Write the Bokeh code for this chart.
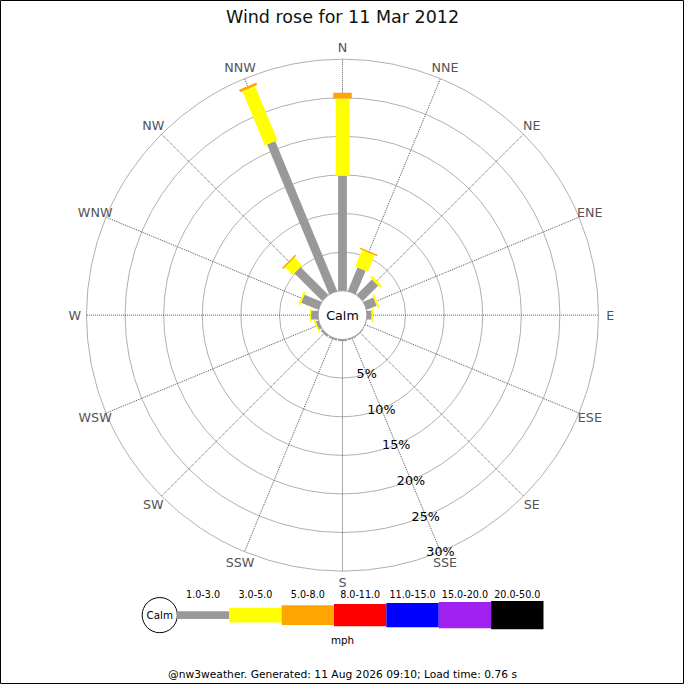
import math
from bokeh.plotting import figure
from bokeh.models import Range1d
from bokeh.core.properties import value
from bokeh.embed import file_html
from bokeh.resources import INLINE

# 16 compass points, clockwise from north
directions = ["N", "NNE", "NE", "ENE", "E", "ESE", "SE", "SSE",
              "S", "SSW", "SW", "WSW", "W", "WNW", "NW", "NNW"]
speed_bands = ["1.0-3.0", "3.0-5.0", "5.0-8.0", "8.0-11.0",
               "11.0-15.0", "15.0-20.0", "20.0-50.0"]
band_colors = ["#999999", "#ffff00", "#ffa500", "#ff0000",
               "#0000ff", "#a020f0", "#000000"]

# % of time in each band, per direction
pct_1_3 = [14.9, 3.3, 2.8, 1.4, 0.6, 0.0, 0.1, 0.15,
           0.2, 0.2, 0.25, 0.35, 0.9, 2.4, 5.1, 21.0]
pct_3_5 = [10.0, 2.3, 0.35, 0.25, 0.2, 0.0, 0.0, 0.0,
           0.0, 0.0, 0.0, 0.2, 0.15, 0.25, 1.4, 7.6]
pct_5_8 = [0.75, 0.2, 0.0, 0.0, 0.0, 0.0, 0.0, 0.0,
           0.0, 0.0, 0.0, 0.0, 0.0, 0.0, 0.2, 0.35]
series = [pct_1_3, pct_3_5, pct_5_8]

ring_ticks = [5, 10, 15, 20, 25, 30]
title = "Wind rose for 11 Mar 2012"
footer = "@nw3weather. Generated: 11 Aug 2026 09:10; Load time: 0.76 s"
units = "mph"

FONT = value("DejaVu Sans")
W = H = 700
CX, CY = 350, 378          # centre of the rose (y measured upward)
CALM_R = 25                 # radius of the calm circle
PX = 7.9                    # px per percent
bar_widths = [9, 14, 19, 23, 25, 27, 29]
legend_heights = [8, 15, 20, 23, 25, 27, 29]

p = figure(width=684, height=684, x_range=Range1d(0, W), y_range=Range1d(0, H),
           output_backend="svg", toolbar_location=None, min_border=0)
p.axis.visible = False
p.xgrid.visible = False
p.ygrid.visible = False
p.outline_line_color = "black"
p.background_fill_color = "white"


def polar(r, deg):
    a = math.radians(deg)
    return CX + r * math.sin(a), CY + r * math.cos(a)


angles = [i * 22.5 for i in range(len(directions))]
outer = CALM_R + PX * ring_ticks[-1]

# rings
p.circle(x=[CX] * len(ring_ticks), y=[CY] * len(ring_ticks),
         radius=[CALM_R + PX * t for t in ring_ticks],
         fill_color=None, line_color="#b0b0b0", line_width=1)

# spokes
x0, y0, x1, y1 = [], [], [], []
for a in angles:
    xa, ya = polar(CALM_R, a)
    xb, yb = polar(outer, a)
    x0.append(xa); y0.append(ya); x1.append(xb); y1.append(yb)
p.segment(x0=x0, y0=y0, x1=x1, y1=y1, line_color="#555555",
          line_dash="1 1", line_width=1)

# bars, stacked outward by speed band
cum = [0.0] * len(directions)
for b, vals in enumerate(series):
    xs, ys, ln, ang = [], [], [], []
    for i, v in enumerate(vals):
        if v <= 0:
            continue
        r_mid = CALM_R + PX * (cum[i] + v / 2)
        x, y = polar(r_mid, angles[i])
        xs.append(x); ys.append(y)
        ln.append(PX * v)
        ang.append(math.radians(90 - angles[i]))
        cum[i] += v
    p.rect(x=xs, y=ys, width=ln, height=bar_widths[b], angle=ang,
           fill_color=band_colors[b], line_color=None)

# calm circle
p.circle(x=[CX], y=[CY], radius=CALM_R, fill_color="white",
         line_color="#999999", line_width=1)
p.text(x=[CX], y=[CY], text=["Calm"], text_font=FONT, text_font_size="12.7px",
       text_align="center", text_baseline="middle", text_color="black")

# compass labels
lx, ly = [], []
for a in angles:
    x, y = polar(outer + 12, a)
    lx.append(x); ly.append(y)
p.text(x=lx, y=ly, text=directions, text_font=FONT, text_font_size="12.7px",
       text_align="center", text_baseline="middle", text_color="#555555")

# percentage labels along SSE spoke
px_, py_ = [], []
for t in ring_ticks:
    x, y = polar(CALM_R + PX * t, 157.5)
    px_.append(x); py_.append(y)
p.text(x=px_, y=py_, text=[f"{t}%" for t in ring_ticks], text_font=FONT,
       text_font_size="12.7px", text_align="center", text_baseline="middle",
       text_color="black")

# title
p.text(x=[CX], y=[H - 17], text=[title], text_font=FONT, text_font_size="17.5px",
       text_align="center", text_baseline="middle", text_color="#111111")

# legend
LEG_Y = H - 629
seg_w = 53.6
seg_x0 = 180.5
p.circle(x=[163], y=[LEG_Y], radius=18, fill_color="white",
         line_color="black", line_width=1)
p.text(x=[163], y=[LEG_Y], text=["Calm"], text_font=FONT, text_font_size="10.3px",
       text_align="center", text_baseline="middle", text_color="black")
seg_cx = [seg_x0 + seg_w * (i + 0.5) for i in range(len(speed_bands))]
p.rect(x=seg_cx, y=[LEG_Y] * len(speed_bands), width=seg_w,
       height=legend_heights, fill_color=band_colors, line_color=None)
p.text(x=seg_cx, y=[H - 607] * len(speed_bands), text=speed_bands,
       text_font=FONT, text_font_size="9.6px", text_align="center",
       text_baseline="middle", text_color="black")
p.text(x=[CX], y=[H - 654], text=[units], text_font=FONT, text_font_size="10.3px",
       text_align="center", text_baseline="middle", text_color="black")
p.text(x=[CX], y=[H - 690], text=[footer], text_font=FONT, text_font_size="10.7px",
       text_align="center", text_baseline="middle", text_color="black")

open("out.html", "w").write(file_html(p, INLINE))
